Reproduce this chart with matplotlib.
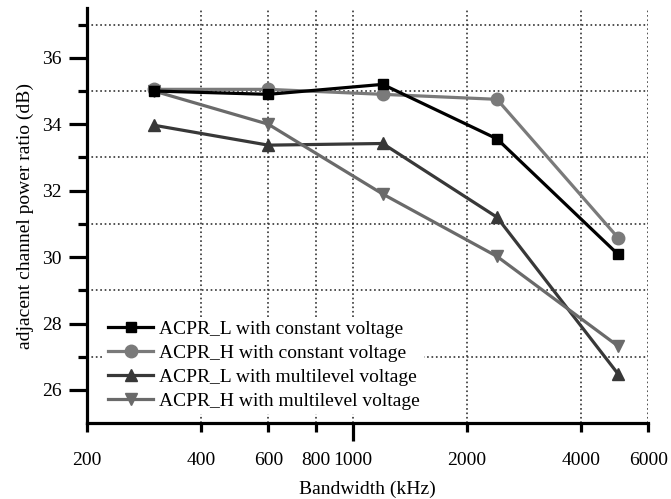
import numpy as np
import matplotlib
matplotlib.use('Agg')
import matplotlib.pyplot as plt
from matplotlib.ticker import FixedLocator, FuncFormatter

plt.rcParams['font.family'] = ['Liberation Serif', 'DejaVu Serif']
plt.rcParams['font.size'] = 14

# data
bandwidth = [300, 600, 1200, 2400, 5000]
acpr_l_const = [35.0, 34.9, 35.2, 33.56, 30.08]
acpr_h_const = [35.05, 35.05, 34.9, 34.75, 30.58]
acpr_l_multi = [33.97, 33.37, 33.42, 31.2, 26.48]
acpr_h_multi = [35.0, 34.0, 31.9, 30.02, 27.32]
labels = ['ACPR_L with constant voltage', 'ACPR_H with constant voltage',
          'ACPR_L with multilevel voltage', 'ACPR_H with multilevel voltage']
xticks_minor = [200, 400, 600, 800, 2000, 4000, 6000]
xticks_major = [1000]

fig = plt.figure(figsize=(6.71, 4.99), dpi=100)
ax = fig.add_axes([0.1297, 0.152, 0.8363, 0.832])

ax.plot(bandwidth, acpr_l_const, color='#000000', marker='s', ms=7, lw=2.3, label=labels[0], zorder=5)
ax.plot(bandwidth, acpr_h_const, color='#7a7a7a', marker='o', ms=9, lw=2.3, label=labels[1], zorder=4)
ax.plot(bandwidth, acpr_l_multi, color='#383838', marker='^', ms=9, lw=2.3, label=labels[2], zorder=4)
ax.plot(bandwidth, acpr_h_multi, color='#6a6a6a', marker='v', ms=9, lw=2.3, label=labels[3], zorder=4)

ax.set_xscale('log')
ax.set_xlim(200, 6000)
ax.set_ylim(25, 37.5)
ax.xaxis.set_major_locator(FixedLocator(xticks_major))
ax.xaxis.set_minor_locator(FixedLocator(xticks_minor))
fmt = FuncFormatter(lambda v, p: '%d' % round(v))
ax.xaxis.set_major_formatter(fmt)
ax.xaxis.set_minor_formatter(fmt)
ax.set_yticks([26, 28, 30, 32, 34, 36])
ax.set_yticks([27, 29, 31, 33, 35, 37], minor=True)

for s in ['top', 'right']:
    ax.spines[s].set_visible(False)
for s in ['left', 'bottom']:
    ax.spines[s].set_linewidth(2.3)

ax.tick_params(axis='x', which='major', length=13, width=2.3, pad=8)
ax.tick_params(axis='x', which='minor', length=6.5, width=2.3, pad=14.5)
ax.tick_params(axis='y', which='major', length=13, width=2.3, pad=5)
ax.tick_params(axis='y', which='minor', length=6.5, width=2.3)

ax.grid(True, axis='x', which='both', linestyle=':', color='#333333', lw=1.2)
ax.grid(True, axis='y', which='minor', linestyle=':', color='#333333', lw=1.2)
ax.grid(False, axis='y', which='major')
# no grid line on the axis ends
for t in ax.xaxis.get_minor_ticks():
    if t.get_loc() in (200, 6000):
        t.gridline.set_visible(False)

ax.set_xlabel('Bandwidth (kHz)', labelpad=8.5)
ax.set_ylabel('adjacent channel power ratio (dB)', labelpad=6)

leg = ax.legend(loc='lower left', bbox_to_anchor=(0.03, 0.022), frameon=True,
                facecolor='white', edgecolor='none', framealpha=1, fancybox=False,
                handlelength=2.35, handletextpad=0.3, labelspacing=0.33, borderpad=0.2,
                borderaxespad=0)

fig.savefig('out.png', dpi=100)
